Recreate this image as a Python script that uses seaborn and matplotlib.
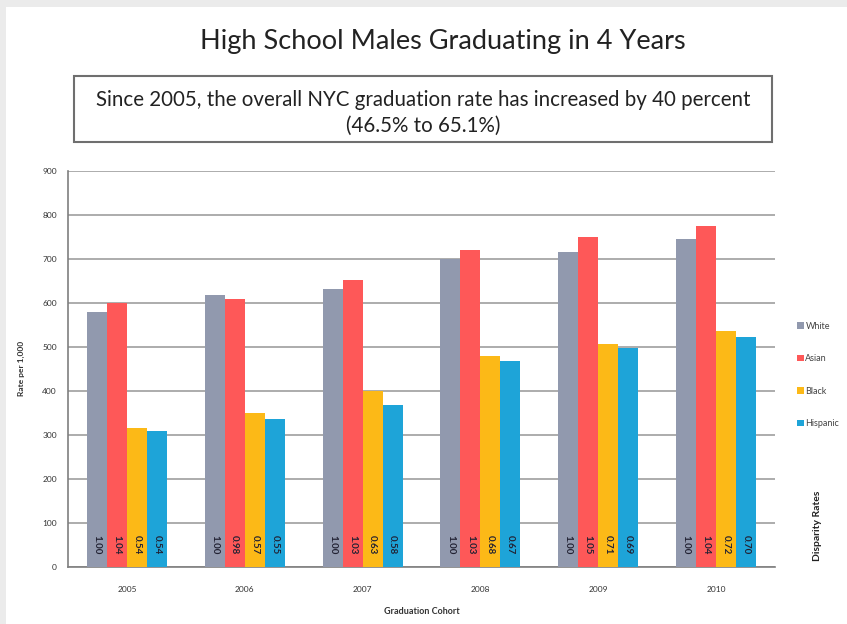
import numpy as np
import pandas as pd
import matplotlib
matplotlib.use("Agg")
import matplotlib.pyplot as plt
from matplotlib.patches import Rectangle
import seaborn as sns

years = ["2005", "2006", "2007", "2008", "2009", "2010"]
groups = ["White", "Asian", "Black", "Hispanic"]
white = [580, 618, 631, 701, 716, 745]
asian = [600, 608, 652, 720, 749, 776]
black = [316, 350, 400, 480, 506, 536]
hispanic = [309, 336, 368, 469, 498, 523]
# disparity rates printed inside the bars
disp_white = ["1.00", "1.00", "1.00", "1.00", "1.00", "1.00"]
disp_asian = ["1.04", "0.98", "1.03", "1.03", "1.05", "1.04"]
disp_black = ["0.54", "0.57", "0.63", "0.68", "0.71", "0.72"]
disp_hispanic = ["0.54", "0.55", "0.58", "0.67", "0.69", "0.70"]

colors = ["#9199ae", "#fe5858", "#fcb917", "#1ea4d8"]

df = pd.DataFrame({
    "year": years * 4,
    "group": [g for g in groups for _ in years],
    "rate": white + asian + black + hispanic,
})
disp = [disp_white, disp_asian, disp_black, disp_hispanic]

sns.set_style("white")
plt.rcParams["font.family"] = ["Lato", "DejaVu Sans"]

fig = plt.figure(figsize=(8.47, 6.24), dpi=100, facecolor="#ebebeb")
fig.add_artist(Rectangle((6 / 847, 0), 1, 1 - 7 / 624, transform=fig.transFigure,
                         facecolor="white", edgecolor="none", zorder=-5))
ax = fig.add_axes([68 / 847, 1 - 567 / 624, 707 / 847, 396 / 624])

sns.barplot(data=df, x="year", y="rate", hue="group", palette=colors,
            width=0.68, gap=0, saturation=1, linewidth=0, ax=ax,
            legend=True, zorder=3)

for cont, labels in zip(ax.containers, disp):
    for bar, lab in zip(cont, labels):
        ax.text(bar.get_x() + bar.get_width() / 2, 50, lab, rotation=270,
                ha="center", va="center", fontsize=7, fontweight="bold",
                color="#222233", zorder=4)

ax.set_ylim(0, 900)
ax.set_yticks(np.arange(0, 901, 100))
ax.yaxis.grid(True, color="#a6a6a6", linewidth=1.3, zorder=0)
ax.set_axisbelow(True)
for s in ["top", "right"]:
    ax.spines[s].set_visible(False)
ax.spines["left"].set_color("#7f7f7f")
ax.spines["bottom"].set_color("#7f7f7f")
ax.spines["left"].set_linewidth(1.2)
ax.spines["bottom"].set_linewidth(1.2)
ax.tick_params(axis="y", length=4, color="#7f7f7f", labelsize=6, labelcolor="#333333", pad=4)
ax.tick_params(axis="x", length=0, labelsize=6, labelcolor="#333333", pad=14)
ax.set_xlabel("")
ax.set_ylabel("")

handles, labels = ax.get_legend_handles_labels()
ax.legend(handles, labels, loc="center left", bbox_to_anchor=(0.936, 0.399),
          bbox_transform=fig.transFigure, frameon=False, fontsize=6.5,
          labelspacing=2.6, handlelength=0.7, handleheight=0.7, handletextpad=0.2,
          borderpad=0, labelcolor="#444444")

fig.text(0.523, 0.933, "High School Males Graduating in 4 Years", ha="center",
         va="center", fontsize=19.5, color="#222222")
fig.add_artist(Rectangle((74 / 847, 1 - 142 / 624), 698 / 847, 66 / 624,
                         transform=fig.transFigure, facecolor="white",
                         edgecolor="#6f6f6f", linewidth=1.5))
fig.text(423 / 847, 1 - 113 / 624,
         "Since 2005, the overall NYC graduation rate has increased by 40 percent\n(46.5% to 65.1%)",
         ha="center", va="center", fontsize=14.8, color="#222222", linespacing=1.38)

fig.text(21 / 847, 1 - 368 / 624, "Rate per 1,000", rotation=90, ha="center",
         va="center", fontsize=6, fontweight="bold", color="#333333")
fig.text(422 / 847, 1 - 612 / 624, "Graduation Cohort", ha="center", va="center",
         fontsize=6.5, fontweight="bold", color="#333333")
fig.text(817 / 847, 1 - 526 / 624, "Disparity Rates", rotation=90, ha="center",
         va="center", fontsize=7.5, fontweight="bold", color="#222222")

fig.savefig("out.png", dpi=100, facecolor=fig.get_facecolor())
